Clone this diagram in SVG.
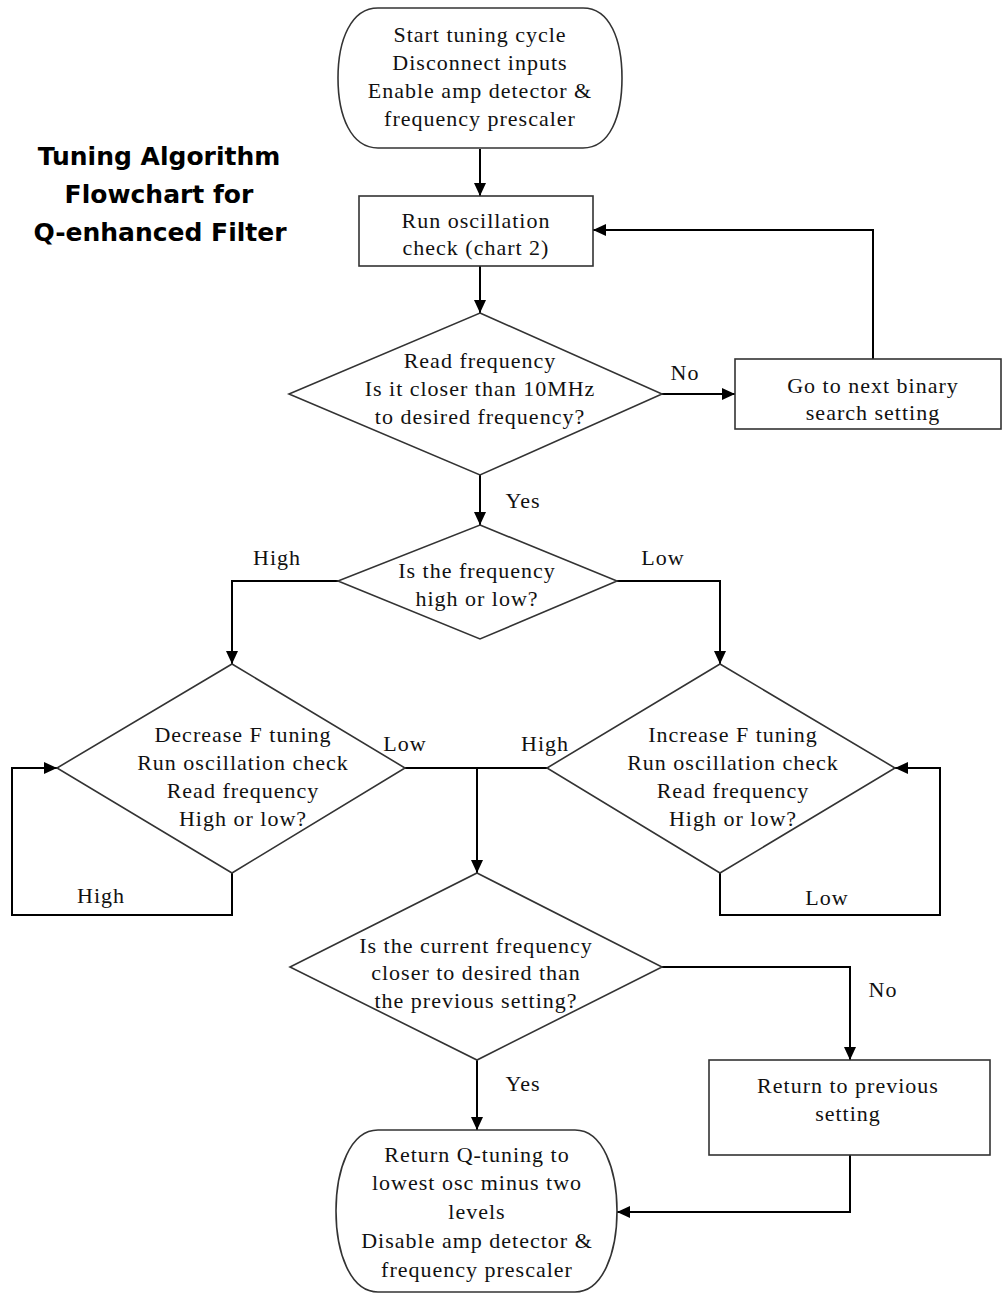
<svg xmlns="http://www.w3.org/2000/svg" width="1003" height="1293" viewBox="0 0 1003 1293">
<style>
.shape{fill:#fff;stroke:#333;stroke-width:1.6}
.conn{fill:none;stroke:#000;stroke-width:2}
.t{font-family:"Liberation Serif","Times New Roman",serif;font-size:22px;letter-spacing:1px;fill:#111;text-anchor:middle}
.title{font-family:"DejaVu Sans","Liberation Sans",sans-serif;font-size:25px;font-weight:bold;fill:#000;text-anchor:middle}
</style>
<defs>
<marker id="arr" markerUnits="userSpaceOnUse" markerWidth="14" markerHeight="12" refX="13" refY="6" orient="auto">
<path d="M0,0 L13,6 L0,12 Z" fill="#000"/>
</marker>
</defs>
<rect width="1003" height="1293" fill="#fff"/>
<g id="title">
<text class="title" x="159" y="165">Tuning Algorithm</text>
<text class="title" x="159" y="203">Flowchart for</text>
<text class="title" x="160" y="241">Q-enhanced Filter</text>
</g>
<g id="connectors">
<path class="conn" d="M480,149 V196" marker-end="url(#arr)"/>
<path class="conn" d="M480,266 V313" marker-end="url(#arr)"/>
<path class="conn" d="M662,394 H735" marker-end="url(#arr)"/>
<path class="conn" d="M873,359 V230 H593" marker-end="url(#arr)"/>
<path class="conn" d="M480,475 V525" marker-end="url(#arr)"/>
<path class="conn" d="M338,581 H232 V664" marker-end="url(#arr)"/>
<path class="conn" d="M617,581 H720 V664" marker-end="url(#arr)"/>
<path class="conn" d="M232,873 V915 H12 V768 H57" marker-end="url(#arr)"/>
<path class="conn" d="M720,873 V915 H940 V768 H895" marker-end="url(#arr)"/>
<path class="conn" d="M405,768 H547"/>
<path class="conn" d="M477,768 V873" marker-end="url(#arr)"/>
<path class="conn" d="M662,967 H850 V1060" marker-end="url(#arr)"/>
<path class="conn" d="M477,1060 V1130" marker-end="url(#arr)"/>
<path class="conn" d="M850,1155 V1212 H617" marker-end="url(#arr)"/>
<text class="t" x="685" y="380">No</text>
<text class="t" x="523" y="508">Yes</text>
<text class="t" x="277" y="565">High</text>
<text class="t" x="663" y="565">Low</text>
<text class="t" x="405" y="751">Low</text>
<text class="t" x="545" y="751">High</text>
<text class="t" x="101" y="903">High</text>
<text class="t" x="827" y="905">Low</text>
<text class="t" x="883" y="997">No</text>
<text class="t" x="523" y="1091">Yes</text>
</g>
<g id="start">
<path class="shape" d="M378,8 H583 C610,8 622,40 622,78 C622,116 610,148 583,148 H378 C351,148 338,116 338,78 C338,40 351,8 378,8 Z"/>
<text class="t" x="480" y="42">Start tuning cycle</text>
<text class="t" x="480" y="70">Disconnect inputs</text>
<text class="t" x="480" y="98">Enable amp detector &amp;</text>
<text class="t" x="480" y="126">frequency prescaler</text>
</g>
<g id="osc-check">
<rect class="shape" x="359" y="196" width="234" height="70"/>
<text class="t" x="476" y="228">Run oscillation</text>
<text class="t" x="476" y="255">check (chart 2)</text>
</g>
<g id="read-freq">
<path class="shape" d="M480,313 L662,394 L480,475 L289,394 Z"/>
<text class="t" x="480" y="368">Read frequency</text>
<text class="t" x="480" y="396">Is it closer than 10MHz</text>
<text class="t" x="480" y="424">to desired frequency?</text>
</g>
<g id="next-binary">
<rect class="shape" x="735" y="359" width="266" height="70"/>
<text class="t" x="873" y="393">Go to next binary</text>
<text class="t" x="873" y="420">search setting</text>
</g>
<g id="high-low">
<path class="shape" d="M480,525 L617,581 L480,639 L338,581 Z"/>
<text class="t" x="477" y="578">Is the frequency</text>
<text class="t" x="477" y="606">high or low?</text>
</g>
<g id="decrease">
<path class="shape" d="M232,664 L405,768 L232,873 L57,768 Z"/>
<text class="t" x="243" y="742">Decrease F tuning</text>
<text class="t" x="243" y="770">Run oscillation check</text>
<text class="t" x="243" y="798">Read frequency</text>
<text class="t" x="243" y="826">High or low?</text>
</g>
<g id="increase">
<path class="shape" d="M720,664 L895,768 L720,873 L547,768 Z"/>
<text class="t" x="733" y="742">Increase F tuning</text>
<text class="t" x="733" y="770">Run oscillation check</text>
<text class="t" x="733" y="798">Read frequency</text>
<text class="t" x="733" y="826">High or low?</text>
</g>
<g id="compare">
<path class="shape" d="M477,873 L662,967 L477,1060 L290,967 Z"/>
<text class="t" x="476" y="953">Is the current frequency</text>
<text class="t" x="476" y="980">closer to desired than</text>
<text class="t" x="476" y="1008">the previous setting?</text>
</g>
<g id="return-prev">
<rect class="shape" x="709" y="1060" width="281" height="95"/>
<text class="t" x="848" y="1093">Return to previous</text>
<text class="t" x="848" y="1121">setting</text>
</g>
<g id="end">
<path class="shape" d="M378,1130 H575 C603,1130 617,1170 617,1211 C617,1252 603,1292 575,1292 H378 C350,1292 336,1252 336,1211 C336,1170 350,1130 378,1130 Z"/>
<text class="t" x="477" y="1162">Return Q-tuning to</text>
<text class="t" x="477" y="1190">lowest osc minus two</text>
<text class="t" x="477" y="1219">levels</text>
<text class="t" x="477" y="1248">Disable amp detector &amp;</text>
<text class="t" x="477" y="1277">frequency prescaler</text>
</g>
</svg>
